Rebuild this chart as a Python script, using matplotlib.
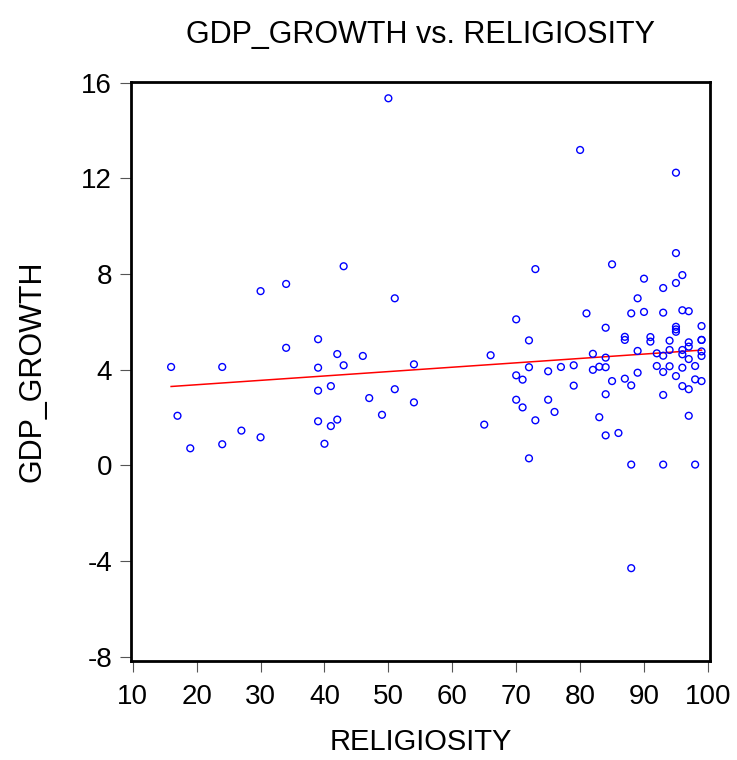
import numpy as np
import matplotlib
matplotlib.use("Agg")
import matplotlib.pyplot as plt

plt.rcParams['font.family'] = ['Liberation Sans', 'DejaVu Sans']
plt.rcParams['axes.unicode_minus'] = False

# ---- 数据----
religiosity = [
    16, 17, 19, 24, 24, 27, 30, 30, 34, 34,
    39, 39, 39, 39, 40, 41, 41, 42, 42, 43,
    43, 46, 47, 49, 50, 51, 51, 54, 54,
    80, 95, 95, 85, 73, 90, 96, 95, 93, 89,
    81, 88, 90, 93, 96, 97, 70, 84, 95, 95,
    95, 99, 72, 87, 87, 91, 91, 94, 97, 97,
    99, 99, 66, 82, 84, 89, 92, 93, 94, 96,
    96, 97, 99, 99,
    72, 70, 71, 75, 77, 79, 82, 83, 84, 85,
    87, 88, 89, 92, 93, 94, 95, 96, 96, 97,
    98, 98, 99, 79, 84, 93, 70, 71, 75, 76,
    73, 83, 84, 86, 97, 65, 72, 88, 93, 98,
    88,
]
gdp_growth = [
    4.11, 2.07, 0.71, 4.11, 0.88, 1.45, 7.28, 1.17, 7.58, 4.91,
    5.27, 4.08, 3.12, 1.84, 0.90, 3.31, 1.64, 4.65, 1.91, 8.32,
    4.18, 4.57, 2.81, 2.11, 15.34, 6.98, 3.18, 4.22, 2.63,
    13.18, 12.23, 8.87, 8.40, 8.20, 7.80, 7.95, 7.62, 7.41, 6.98,
    6.35, 6.35, 6.41, 6.38, 6.48, 6.44, 6.10, 5.75, 5.79, 5.68,
    5.58, 5.82, 5.22, 5.37, 5.24, 5.36, 5.17, 5.21, 5.14, 4.96,
    5.24, 5.24, 4.60, 4.66, 4.50, 4.78, 4.68, 4.58, 4.82, 4.82,
    4.64, 4.44, 4.76, 4.57,
    4.10, 3.76, 3.58, 3.93, 4.11, 4.18, 3.99, 4.12, 4.10, 3.52,
    3.62, 3.34, 3.87, 4.15, 3.90, 4.14, 3.73, 4.08, 3.31, 3.18,
    4.15, 3.59, 3.52, 3.33, 2.97, 2.94, 2.74, 2.42, 2.74, 2.23,
    1.88, 2.01, 1.25, 1.35, 2.07, 1.70, 0.29, 0.03, 0.03, 0.03,
    -4.30,
]
x_ticks = [10, 20, 30, 40, 50, 60, 70, 80, 90, 100]
y_ticks = [-8, -4, 0, 4, 8, 12, 16]

x = np.array(religiosity, dtype=float)
y = np.array(gdp_growth, dtype=float)

# 回归线（OLS）
slope, intercept = np.polyfit(x, y, 1)
x_line = np.array([x.min(), x.max()])
y_line = intercept + slope * x_line

# ---- 作图 ----
fig = plt.figure(figsize=(7.37, 7.60), dpi=100)
ax = fig.add_axes([0.1784, 0.1309, 0.7856, 0.7618])

ax.scatter(x, y, s=24, facecolors='none', edgecolors='#0000ff', linewidths=1.0, zorder=3)
ax.plot(x_line, y_line, color='red', linewidth=1.1, zorder=2)

ax.set_xlim(9.8, 100.4)
ax.set_ylim(-8.16, 16.04)
ax.set_xticks(x_ticks)
ax.set_yticks(y_ticks)

for s in ax.spines.values():
    s.set_linewidth(2.0)
    s.set_color('black')

ax.tick_params(direction='out', length=8, width=0.8, color='#555555',
               labelsize=20, pad=6)
ax.tick_params(axis='x', pad=9)

ax.set_title("GDP_GROWTH vs. RELIGIOSITY", fontsize=22, pad=28)
ax.set_xlabel("RELIGIOSITY", fontsize=21, labelpad=13)
ax.set_ylabel("GDP_GROWTH", fontsize=22, labelpad=24)

fig.savefig("out.png", dpi=100)
plt.close(fig)
